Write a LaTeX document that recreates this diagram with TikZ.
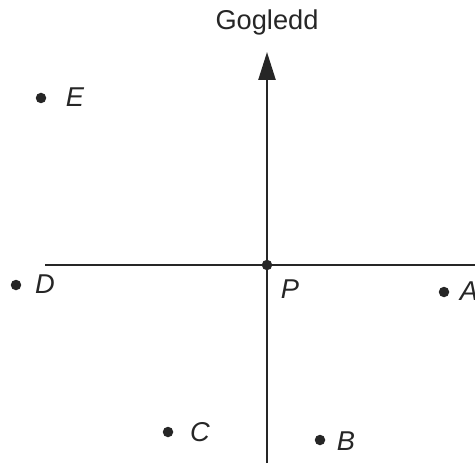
\documentclass[tikz,border=0pt]{standalone}
\usepackage{fontspec}
\setmainfont{Liberation Sans}
\usetikzlibrary{arrows.meta}
\tikzset{pt/.style = {circle, fill, inner sep=0pt, minimum size=0.21cm},
  lbl/.style = {font=\fontsize{15.5}{18}\selectfont\itshape, inner sep=0pt}}

\begin{document}
\begin{tikzpicture}[x=0.02cm, y=0.02cm, line width=1.4pt, color={black!85}]
      \useasboundingbox (0,0) rectangle (475,463);
      \coordinate (west) at (45,198);
      \coordinate (east) at (475,198);
      \coordinate (south) at (267,0);
      \coordinate (north) at (267,411);
      \draw (west) -- (east);
      \draw [-{Triangle[length=0.56cm, width=0.34cm]}] (south) -- (north);
      \node (nord) at (267,441) [font=\fontsize{15.5}{18}\selectfont] {Gogledd};
      \node [pt] (p) at (267,198) {};
      \node [pt] (e) at (41,365) {};
      \node [pt] (d) at (16,178) {};
      \node [pt] (a) at (444,171) {};
      \node [pt] (c) at (168,31) {};
      \node [pt] (b) at (320,23) {};
      \node [lbl] (lp) at (290,174) {P};
      \node [lbl] (le) at (75,366) {E};
      \node [lbl] (ld) at (45,179) {D};
      \node [lbl] (la) at (469,172) {A};
      \node [lbl] (lc) at (200,31) {C};
      \node [lbl] (lb) at (346,22) {B};
    \end{tikzpicture}
\end{document}
